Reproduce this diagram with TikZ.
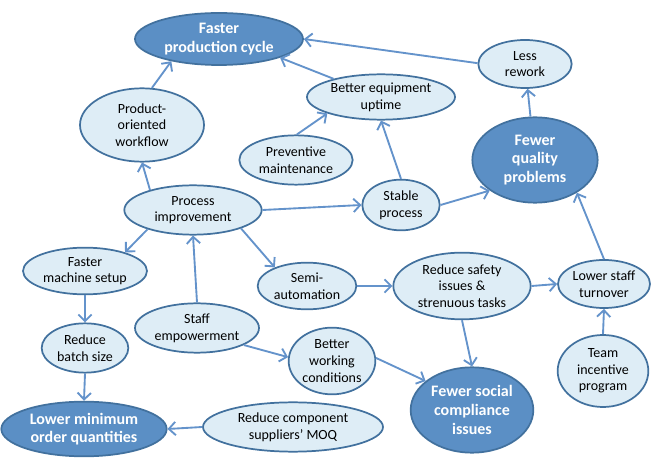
\documentclass[tikz,border=0pt]{standalone}
\usepackage{fontspec}
\setmainfont{Carlito}
\usetikzlibrary{shapes.geometric,arrows.meta}
\definecolor{paleblue}{RGB}{222,237,246}
\definecolor{goalblue}{RGB}{91,143,197}
\definecolor{rimblue}{RGB}{66,113,158}
\definecolor{linkblue}{RGB}{100,147,203}

\begin{document}
\begin{tikzpicture}
[x=0.75pt,y=-0.75pt,
every node/.style={ellipse,draw=rimblue,line width=1.3pt,fill=paleblue,align=center,
  inner sep=0pt,font=\fontsize{10.5}{12.5}\selectfont},
goal/.style={fill=goalblue,text=white,font=\fontsize{12}{14}\selectfont\bfseries},
link/.style={draw=linkblue,line width=1.4pt,-{Straight Barb[length=5pt,width=10pt]}},
]
\useasboundingbox (0,0) rectangle (654,470);

\node[goal,minimum width=126pt,minimum height=39pt] (cycle) at (219,39) {Faster\\production cycle};
\node[minimum width=70pt,minimum height=36pt] (rework) at (525,64) {Less\\rework};
\node[minimum width=111pt,minimum height=34pt] (uptime) at (381,97) {Better equipment\\uptime};
\node[minimum width=93pt,minimum height=55pt] (workflow) at (142,125) {Product-\\oriented\\workflow};
\node[goal,minimum width=94pt,minimum height=64pt] (quality) at (535,160) {Fewer\\quality\\problems};
\node[minimum width=85pt,minimum height=37pt] (maint) at (296,160) {Preventive\\maintenance};
\node[minimum width=58pt,minimum height=38pt] (stable) at (401,205) {Stable\\process};
\node[minimum width=103pt,minimum height=37pt] (process) at (193,210) {Process\\improvement};
\node[minimum width=93pt,minimum height=35pt] (setup) at (85,271) {Faster\\machine setup};
\node[minimum width=74pt,minimum height=35pt] (semi) at (307,286) {Semi-\\automation};
\node[minimum width=103pt,minimum height=50pt] (safety) at (462,286) {Reduce safety\\issues \&\\strenuous tasks};
\node[minimum width=69pt,minimum height=36pt] (turnover) at (604,284) {Lower staff\\turnover};
\node[minimum width=93pt,minimum height=37pt] (staff) at (197,328) {Staff\\empowerment};
\node[minimum width=65pt,minimum height=37pt] (batch) at (85,348) {Reduce\\batch size};
\node[minimum width=65pt,minimum height=50pt] (working) at (332,361) {Better\\working\\conditions};
\node[minimum width=68pt,minimum height=54pt] (incentive) at (603,371) {Team\\incentive\\program};
\node[goal,minimum width=92pt,minimum height=64pt] (social) at (472,410) {Fewer social\\compliance\\issues};
\node[goal,minimum width=124pt,minimum height=41pt] (lowmoq) at (84,429) {Lower minimum\\order quantities};
\node[minimum width=135pt,minimum height=37pt] (supplier) at (293,427) {Reduce component\\suppliers’ MOQ};

\draw[link] (workflow.75) -- (cycle.205);
\draw[link] (uptime.159) -- (cycle.343);
\draw[link] (rework.179) -- (cycle.east);
\draw[link] (quality) -- (rework);
\draw[link] (maint.88) -- (uptime.197);
\draw[link] (stable.north) -- (uptime.south);
\draw[link] (stable.east) -- (quality.214);
\draw[link] (process.155) -- (workflow.south);
\draw[link] (process.east) -- (stable.west);
\draw[link] (process.203) -- (setup.25);
\draw[link] (process.339) -- (semi.150);
\draw[link] (staff.north) -- (process.south);
\draw[link] (staff.340) -- (working.175);
\draw[link] (semi.east) -- (safety.west);
\draw[link] (safety.east) -- (turnover.west);
\draw[link] (safety.south) -- (social.north);
\draw[link] (turnover.north) -- (quality.322);
\draw[link] (incentive.north) -- (turnover.south);
\draw[link] (working.4) -- (social.148);
\draw[link] (setup.south) -- (batch.north);
\draw[link] (batch.south) -- (lowmoq.north);
\draw[link] (supplier.west) -- (lowmoq.east);
\end{tikzpicture}
\end{document}
